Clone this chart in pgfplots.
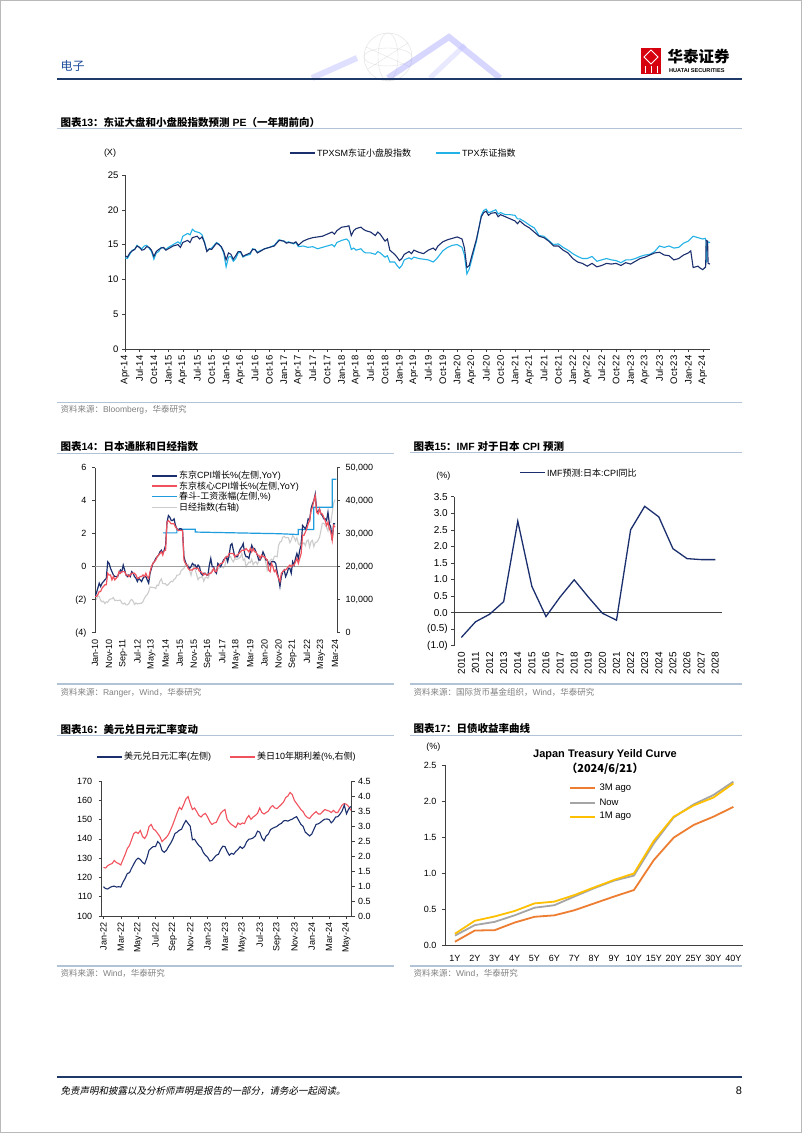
\documentclass[border=0pt]{standalone}
\usepackage{fontspec}
\setmainfont{Liberation Sans}
\newfontfamily\cjk{Noto Sans CJK SC}
\newfontfamily\cjki{Noto Sans CJK SC}[FakeSlant=0.2]
\usepackage{pgfplots}
\pgfplotsset{compat=1.18}
\definecolor{navy}{HTML}{1B2F6E}
\definecolor{sky}{HTML}{22B2E6}
\definecolor{wage}{HTML}{1E9CDE}
\definecolor{pinkred}{HTML}{F0525E}
\definecolor{nikkei}{HTML}{CCCCCC}
\definecolor{axc}{HTML}{404040}
\definecolor{rulec}{HTML}{B3C3D6}
\definecolor{hdrnavy}{HTML}{1F3A68}
\definecolor{hdrblue}{HTML}{1F4E9C}
\definecolor{srcgray}{HTML}{808080}
\definecolor{orng}{HTML}{ED7D31}
\definecolor{gry}{HTML}{A5A5A5}
\definecolor{yel}{HTML}{FFC000}
\definecolor{logored}{HTML}{D7000F}
\newcommand\fs[1]{\fontsize{#1}{#1}\selectfont}
\pgfplotsset{
  pg/.style={scale only axis, anchor=south west,
    axis line style={draw=axc, line width=0.6pt},
    tick style={draw=axc, line width=0.5pt},
    major tick length=3pt, tick align=outside,
    tick label style={font=\fs{9}, text=black},
    scaled y ticks=false, scaled x ticks=false,
    enlargelimits=false, clip=true},
  rotx/.style={xticklabel style={rotate=90, anchor=east}},
}
\begin{document}
\begin{tikzpicture}[x=1pt,y=1pt]
\fill[white] (0,0) rectangle (802,1133);
\draw[gray!55, line width=1pt] (0.5,0.5) rectangle (801.5,1132.5);
% ---------- header ----------
\begin{scope}[opacity=0.35]
\draw[gray!60, line width=0.5pt] (388,1076) circle (24);
\draw[gray!60, line width=0.4pt] (388,1076) ellipse (24 and 9) (388,1076) ellipse (10 and 24);
\draw[gray!60, line width=0.4pt] (366,1086) -- (410,1066) (368,1064) -- (408,1090);
\draw[blue!35, line width=6pt] (312,1055) -- (357,1075);
\draw[blue!45, line width=6pt] (388,1055) -- (449,1096) -- (500,1055);
\draw[blue!25, line width=5pt] (430,1055) -- (465,1088);
\end{scope}
\node[anchor=west, text=hdrblue, font=\cjk\fs{12}] at (57,1067) {电子};
\fill[logored] (641,1059) rectangle (661,1085);
\draw[white, line width=0.9pt] (651,1083) -- (658,1076) -- (651,1069) -- (644,1076) -- cycle;
\draw[white, line width=1pt] (645,1060) -- (645,1067) (651,1060) -- (651,1067) (657,1060) -- (657,1067);
\node[anchor=west, font=\cjk\bfseries\fs{15.5}] at (664,1076) {华泰证券};
\node[anchor=west, font=\bfseries\fs{5.6}] at (665.5,1062.3) {HUATAI SECURITIES};
\draw[hdrnavy, line width=2pt] (57,1053.7) -- (742,1053.7);
% ---------- chart 13 ----------
\node[anchor=west] at (57,1010.3) {\fs{10.5}\bfseries{\cjk 图表}13{\cjk ：东证大盘和小盘股指数预测} PE{\cjk （一年期前向）}};
\draw[rulec, line width=1.3pt] (57,1004.5) -- (742,1004.5);
\node[font=\fs{9}] at (110,980) {(X)};
\draw[navy, line width=1.6pt] (290,980) -- (315,980);
\node[anchor=west, font=\fs{9}, inner sep=1pt] at (316,980) {TPXSM{\cjk 东证小盘股指数}};
\draw[sky, line width=1.6pt] (436,980) -- (460,980);
\node[anchor=west, font=\fs{9}, inner sep=1pt] at (461,980) {TPX{\cjk 东证指数}};
\begin{axis}[pg, rotx, at={(125pt,784pt)}, width=585pt, height=174pt,
  xmin=0, xmax=121.5, ymin=0, ymax=25,
  axis x line*=bottom, axis y line*=left,
  ytick={0,5,10,15,20,25}, yticklabels={0,5,10,15,20,25},
  tick label style={font=\fs{9.5}},
  xtick={0,3,...,120},
  xticklabels={Apr-14,Jul-14,Oct-14,Jan-15,Apr-15,Jul-15,Oct-15,Jan-16,Apr-16,Jul-16,Oct-16,Jan-17,Apr-17,Jul-17,Oct-17,Jan-18,Apr-18,Jul-18,Oct-18,Jan-19,Apr-19,Jul-19,Oct-19,Jan-20,Apr-20,Jul-20,Oct-20,Jan-21,Apr-21,Jul-21,Oct-21,Jan-22,Apr-22,Jul-22,Oct-22,Jan-23,Apr-23,Jul-23,Oct-23,Jan-24,Apr-24}]
\addplot[sky, line width=1.1pt] table[row sep=\\] {
x y\\ 0 13.1\\ 0.5 13.0\\ 1 13.6\\ 1.5 14.2\\ 2 14.3\\ 2.5 14.9\\ 3 14.6\\ 3.5 14.4\\ 4 14.8\\ 4.5 14.9\\ 5 14.5\\ 5.5 14.0\\ 6 12.9\\ 6.5 13.8\\ 7 14.0\\ 7.5 14.6\\ 8 14.5\\ 8.5 14.3\\ 9 14.6\\ 10 15.0\\ 11 15.4\\ 11.5 15.1\\ 12 16.2\\ 13 16.6\\ 13.5 16.4\\ 14 17.2\\ 14.5 16.9\\ 15 16.8\\ 15.5 16.7\\ 16 16.4\\ 16.5 15.4\\ 17 14.1\\ 17.5 14.3\\ 18 14.5\\ 19 15.3\\ 19.5 15.1\\ 20 14.6\\ 20.5 13.8\\ 21 11.8\\ 21.5 13.2\\ 22 13.3\\ 22.5 12.6\\ 23 13.0\\ 23.5 13.8\\ 24 13.9\\ 24.5 13.2\\ 25 13.4\\ 26 13.6\\ 26.5 14.4\\ 27 14.3\\ 27.5 13.9\\ 28 14.1\\ 29 14.4\\ 30 14.6\\ 31 14.9\\ 31.5 15.3\\ 32 15.7\\ 33 15.5\\ 33.5 15.3\\ 34 15.4\\ 35 15.1\\ 35.5 15.3\\ 36 14.7\\ 37 14.8\\ 38 14.6\\ 39 14.7\\ 40 14.4\\ 41 14.6\\ 42 14.8\\ 43 15.0\\ 43.5 14.7\\ 44 15.3\\ 45 15.6\\ 46 15.8\\ 46.5 15.5\\ 47 14.3\\ 47.5 14.5\\ 48 14.2\\ 49 14.4\\ 49.5 14.0\\ 50 13.8\\ 51 13.8\\ 52 13.6\\ 52.5 14.0\\ 53 13.8\\ 54 13.2\\ 54.5 13.4\\ 55 12.5\\ 56 12.5\\ 56.5 12.0\\ 57 11.6\\ 57.5 12.0\\ 58 12.8\\ 59 13.1\\ 59.5 12.9\\ 60 13.2\\ 61 13.0\\ 62 12.9\\ 63 12.8\\ 64 12.5\\ 64.5 12.8\\ 65 13.2\\ 66 14.1\\ 67 14.6\\ 68 14.9\\ 69 15.0\\ 70 14.6\\ 70.5 13.5\\ 71 10.8\\ 71.5 11.5\\ 72 12.8\\ 73 15.5\\ 74 19.2\\ 74.5 19.9\\ 75 20.1\\ 75.5 19.6\\ 76 19.7\\ 77 20.0\\ 77.5 19.4\\ 78 19.6\\ 79 19.3\\ 80 19.3\\ 81 19.2\\ 81.5 18.7\\ 82 18.7\\ 83 18.3\\ 84 17.8\\ 85 17.4\\ 86 16.3\\ 87 16.2\\ 88 15.6\\ 89 15.0\\ 90 15.1\\ 91 14.6\\ 92 14.2\\ 93 13.7\\ 94 13.3\\ 95 13.0\\ 96 13.0\\ 97 13.3\\ 98 12.6\\ 99 12.8\\ 100 13.0\\ 101 12.8\\ 102 12.7\\ 103 12.4\\ 104 12.8\\ 105 12.8\\ 106 13.0\\ 107 13.3\\ 108 13.5\\ 109 13.6\\ 110 14.0\\ 111 14.8\\ 112 14.6\\ 113 14.8\\ 114 14.5\\ 115 14.6\\ 116 15.2\\ 117 15.5\\ 118 16.2\\ 119 16.0\\ 120 15.8\\ 120.5 15.9\\ 120.7 15.5\\ 120.8 12.4\\ 121.0 15.4\\ 121.5 15.3\\
};
\addplot[navy, line width=1.1pt] table[row sep=\\] {
x y\\ 0 13.4\\ 0.5 13.2\\ 1 13.8\\ 1.5 14.1\\ 2 14.3\\ 2.5 14.8\\ 3 14.6\\ 3.5 14.2\\ 4 14.3\\ 4.5 14.7\\ 5 14.6\\ 5.5 14.2\\ 6 13.3\\ 6.5 14.0\\ 7 14.3\\ 7.5 14.5\\ 8 14.6\\ 8.5 14.2\\ 9 14.4\\ 10 14.8\\ 11 15.0\\ 11.5 14.6\\ 12 15.3\\ 13 15.6\\ 13.5 15.3\\ 14 16.0\\ 15 16.2\\ 15.5 15.8\\ 16 16.1\\ 16.5 15.3\\ 17 14.0\\ 17.5 14.4\\ 18 14.3\\ 19 15.2\\ 19.5 15.0\\ 20 14.7\\ 20.5 14.0\\ 21 12.8\\ 21.5 13.8\\ 22 13.6\\ 22.5 12.9\\ 23 13.4\\ 23.5 14.0\\ 24 14.0\\ 24.5 13.3\\ 25 13.5\\ 26 13.8\\ 26.5 14.3\\ 27 14.3\\ 27.5 13.8\\ 28 14.0\\ 29 14.4\\ 30 14.6\\ 31 14.8\\ 31.5 15.2\\ 32 15.6\\ 33 15.5\\ 33.5 15.2\\ 34 15.3\\ 35 15.2\\ 35.5 15.4\\ 36 14.9\\ 37 15.5\\ 38 15.8\\ 39 16.0\\ 40 16.1\\ 41 16.2\\ 42 16.5\\ 43 16.8\\ 43.5 16.5\\ 44 17.0\\ 45 17.5\\ 46 17.6\\ 46.5 17.7\\ 47 16.3\\ 47.5 17.0\\ 48 17.3\\ 49 17.5\\ 49.5 17.2\\ 50 17.0\\ 51 16.8\\ 52 16.3\\ 52.5 16.8\\ 53 16.5\\ 54 15.5\\ 54.5 15.8\\ 55 14.2\\ 56 13.6\\ 56.5 13.2\\ 57 12.7\\ 57.5 13.0\\ 58 13.6\\ 59 14.0\\ 59.5 13.7\\ 60 14.2\\ 61 13.9\\ 62 13.7\\ 63 14.2\\ 64 14.5\\ 64.5 14.2\\ 65 14.8\\ 66 15.4\\ 67 15.7\\ 68 15.9\\ 69 16.1\\ 70 15.8\\ 70.5 14.5\\ 71 11.7\\ 71.5 12.0\\ 72 13.3\\ 73 15.8\\ 74 19.0\\ 74.5 19.6\\ 75 19.8\\ 75.5 19.2\\ 76 19.5\\ 77 19.6\\ 77.5 19.0\\ 78 19.3\\ 79 19.0\\ 80 18.7\\ 81 18.4\\ 81.5 18.0\\ 82 18.4\\ 83 17.8\\ 84 17.4\\ 85 16.8\\ 86 16.2\\ 87 16.0\\ 88 15.5\\ 89 14.8\\ 90 14.8\\ 91 14.2\\ 92 13.8\\ 93 13.0\\ 94 12.5\\ 95 12.3\\ 96 11.9\\ 97 12.3\\ 98 11.8\\ 99 12.0\\ 100 12.3\\ 101 12.2\\ 102 12.3\\ 103 12.0\\ 104 12.4\\ 105 12.2\\ 106 12.6\\ 107 13.0\\ 108 13.2\\ 109 13.5\\ 110 13.8\\ 111 13.9\\ 112 13.5\\ 113 13.4\\ 114 12.8\\ 115 13.0\\ 116 13.5\\ 117 13.8\\ 117.5 14.1\\ 118 11.7\\ 119 11.9\\ 119.5 11.6\\ 120 11.4\\ 120.6 11.8\\ 120.7 15.6\\ 121.0 15.5\\ 121.1 12.3\\ 121.5 12.2\\
};
\end{axis}
\draw[rulec, line width=1.2pt] (57,730.3) -- (742,730.3);
\node[anchor=west, text=srcgray, font=\fs{8.5}] at (57,723) {{\cjk 资料来源：}Bloomberg{\cjk ，华泰研究}};
% ---------- chart 14 ----------
\node[anchor=west] at (57,686.3) {\fs{10.5}\bfseries{\cjk 图表}14{\cjk ：日本通胀和日经指数}};
\draw[rulec, line width=1.3pt] (57,679.7) -- (394,679.7);
\begin{axis}[pg, at={(95pt,500.3pt)}, width=242pt, height=165pt,
  xmin=0, xmax=171.4, ymin=0, ymax=50000,
  axis x line=none, axis y line*=right,
  ytick={0,10000,20000,30000,40000,50000},
  yticklabels={0,{10,000},{20,000},{30,000},{40,000},{50,000}},
  yticklabel style={xshift=2pt}]
\addplot[nikkei, line width=1.1pt] table[header=false, x expr=\coordindex, y index=0, row sep=\\] {
10198\\10126\\11089\\11057\\9768\\9382\\9537\\8824\\9369\\9202\\9937\\10228\\
10237\\10624\\9755\\9849\\9693\\9816\\9833\\8955\\8700\\8988\\8434\\8455\\
8802\\9723\\10083\\9520\\8542\\9006\\8695\\8839\\8870\\8928\\9446\\10395\\
11138\\11559\\12397\\13860\\13774\\13677\\13668\\13388\\14455\\14327\\15662\\16291\\
14914\\14841\\14828\\14304\\14632\\15162\\15621\\15425\\16173\\16414\\17460\\17451\\
17674\\18798\\19207\\19520\\20563\\20236\\20585\\18890\\17388\\19083\\19747\\19034\\
17518\\16027\\16759\\16666\\17235\\15576\\16569\\16887\\16450\\17425\\18308\\19114\\
19041\\19119\\18909\\19197\\19651\\20033\\19925\\19646\\20356\\22012\\22725\\22765\\
23098\\22068\\21454\\22468\\22202\\22305\\22554\\22865\\24120\\21920\\22351\\20015\\
20773\\21385\\21206\\22259\\20601\\21276\\21522\\20704\\21756\\22927\\23294\\23657\\
23205\\21143\\18917\\20194\\21878\\22288\\21710\\23140\\23185\\22977\\26434\\27444\\
27663\\28966\\29179\\28813\\28860\\28792\\27284\\28090\\29453\\28893\\27822\\28792\\
27002\\26527\\27821\\26848\\27280\\26393\\27802\\28092\\25937\\27587\\27969\\26095\\
27327\\27446\\28041\\28856\\30888\\33189\\33172\\32619\\31858\\30859\\33487\\33464\\
36287\\39166\\40369\\
};
\end{axis}
\begin{axis}[pg, rotx, at={(95pt,500.3pt)}, width=242pt, height=165pt,
  xmin=0, xmax=171.4, ymin=-4, ymax=6,
  axis x line*=bottom, axis y line*=left,
  x axis line style={draw=none}, xtick style={draw=none},
  ytick={-4,-2,0,2,4,6}, yticklabels={(4),(2),0,2,4,6},
  yticklabel style={xshift=-2pt},
  extra y ticks={0}, extra y tick labels={},
  extra y tick style={grid=major, major grid style={draw=gray!75, line width=0.7pt}, tick style={draw=none}},
  xtick={0,10,...,170},
  xticklabels={Jan-10,Nov-10,Sep-11,Jul-12,May-13,Mar-14,Jan-15,Nov-15,Sep-16,Jul-17,May-18,Mar-19,Jan-20,Nov-20,Sep-21,Jul-22,May-23,Mar-24}]
\addplot[wage, line width=1.2pt] coordinates {(48,2.05)(58,2.05)(58,2.27)(71,2.27)(71,2.1)(100,2.05)(130,2.0)(144,1.95)(144,2.25)(155,2.25)(155,3.6)(168,3.6)(168,5.3)(171,5.3)};
\addplot[navy, line width=1.2pt] table[header=false, x expr=\coordindex, y index=0, row sep=\\] {
-1.8\\-1.6\\-1.3\\-1.0\\-1.2\\-1.0\\-0.9\\-0.8\\-0.7\\0.3\\0.2\\-0.1\\
-0.3\\-0.5\\-0.6\\-0.6\\-0.6\\-0.4\\-0.2\\-0.3\\0.1\\-0.2\\-0.5\\-0.6\\
-0.5\\-0.6\\-0.3\\-0.4\\-0.6\\-0.7\\-0.9\\-0.7\\-0.8\\-0.9\\-0.7\\-0.6\\
-0.6\\-0.8\\-1.0\\-0.4\\-0.1\\0.2\\0.3\\0.5\\0.6\\0.7\\0.9\\1.0\\
0.8\\1.0\\1.3\\2.7\\3.1\\3.0\\2.8\\2.8\\2.9\\2.5\\2.3\\2.2\\
2.3\\2.3\\2.2\\0.6\\0.3\\0.1\\0.0\\-0.1\\0.0\\0.2\\0.1\\0.1\\
-0.1\\0.1\\0.0\\-0.4\\-0.5\\-0.4\\-0.4\\-0.5\\-0.5\\0.1\\0.5\\0.0\\
0.0\\-0.3\\-0.4\\0.2\\0.1\\0.0\\0.2\\0.4\\0.5\\0.6\\0.3\\0.7\\
1.3\\1.4\\1.0\\0.6\\0.6\\0.6\\0.9\\1.1\\1.2\\1.4\\0.8\\0.6\\
0.6\\0.5\\0.9\\1.3\\1.1\\1.1\\0.9\\0.7\\0.4\\0.4\\0.6\\0.9\\
0.7\\0.4\\0.4\\0.2\\0.1\\0.3\\0.3\\0.3\\0.2\\-0.3\\-0.7\\-1.2\\
-0.6\\-0.3\\-0.2\\-0.6\\-0.4\\-0.1\\-0.1\\-0.4\\0.3\\0.1\\0.5\\0.8\\
0.5\\1.0\\1.3\\2.5\\2.4\\2.3\\2.5\\2.9\\2.8\\3.5\\3.8\\4.0\\
4.4\\3.4\\3.3\\3.5\\3.2\\3.1\\2.9\\2.9\\2.8\\3.3\\2.6\\2.4\\
1.6\\2.6\\2.6\\
};
\addplot[pinkred, line width=1.2pt] table[header=false, x expr=\coordindex, y index=0, row sep=\\] {
-1.8\\-1.8\\-1.7\\-1.5\\-1.5\\-1.3\\-1.2\\-1.1\\-1.1\\-0.4\\-0.5\\-0.5\\
-0.8\\-0.6\\-0.8\\-0.7\\-0.6\\-0.3\\-0.4\\-0.3\\-0.3\\-0.3\\-0.5\\-0.5\\
-0.6\\-0.5\\-0.4\\-0.4\\-0.4\\-0.5\\-0.7\\-0.7\\-0.6\\-0.6\\-0.5\\-0.6\\
-0.4\\-0.6\\-0.7\\-0.3\\0.0\\0.2\\0.3\\0.4\\0.6\\0.7\\0.8\\0.9\\
0.7\\1.0\\1.0\\2.7\\2.8\\2.7\\2.6\\2.6\\2.6\\2.4\\2.3\\2.2\\
2.2\\2.2\\2.2\\0.4\\0.2\\0.1\\-0.1\\-0.2\\-0.2\\-0.2\\-0.1\\-0.1\\
-0.1\\-0.1\\-0.3\\-0.3\\-0.4\\-0.5\\-0.4\\-0.5\\-0.5\\-0.4\\-0.4\\-0.3\\
-0.1\\-0.3\\-0.3\\0.0\\0.1\\0.2\\0.2\\0.3\\0.5\\0.6\\0.6\\0.8\\
0.8\\0.8\\0.8\\0.6\\0.7\\0.7\\0.8\\0.9\\1.0\\1.0\\1.0\\1.1\\
1.0\\0.9\\1.1\\0.9\\1.1\\0.9\\0.9\\0.7\\0.7\\0.5\\0.7\\0.6\\
0.6\\0.5\\0.4\\-0.2\\-0.3\\0.2\\0.0\\-0.3\\-0.2\\-0.5\\-0.7\\-0.9\\
-0.4\\-0.3\\-0.2\\-0.2\\-0.1\\0.0\\0.1\\0.0\\0.1\\0.1\\0.3\\0.5\\
0.2\\0.5\\0.8\\1.9\\1.9\\2.1\\2.3\\2.6\\2.8\\3.4\\3.6\\4.0\\
4.3\\3.3\\3.2\\3.5\\3.2\\3.2\\3.0\\2.8\\2.5\\2.7\\2.3\\2.1\\
1.6\\2.5\\2.4\\
};
\end{axis}
\draw[navy, line width=1.6pt] (152,657) -- (177,657);
\node[anchor=west, font=\fs{9}, inner sep=1pt] at (178,657) {{\cjk 东京}CPI{\cjk 增长}\%({\cjk 左侧},YoY)};
\draw[pinkred, line width=1.6pt] (152,646.7) -- (177,646.7);
\node[anchor=west, font=\fs{9}, inner sep=1pt] at (178,646.7) {{\cjk 东京核心}CPI{\cjk 增长}\%({\cjk 左侧},YoY)};
\draw[wage, line width=1.6pt] (152,636.3) -- (177,636.3);
\node[anchor=west, font=\fs{9}, inner sep=1pt] at (178,636.3) {{\cjk 春斗-工资涨幅}({\cjk 左侧},\%)};
\draw[nikkei, line width=1.6pt] (152,625.3) -- (177,625.3);
\node[anchor=west, font=\fs{9}, inner sep=1pt] at (178,625.3) {{\cjk 日经指数}({\cjk 右轴})};
\draw[rulec, line width=1.2pt] (57,449) -- (394,449);
\node[anchor=west, text=srcgray, font=\fs{8.5}] at (57,440.3) {{\cjk 资料来源：}Ranger{\cjk ，}Wind{\cjk ，华泰研究}};
% ---------- chart 15 ----------
\node[anchor=west] at (410,686.3) {\fs{10.5}\bfseries{\cjk 图表}15{\cjk ：}IMF {\cjk 对于日本} CPI {\cjk 预测}};
\draw[rulec, line width=1.3pt] (410,680.3) -- (742,680.3);
\node[font=\fs{9}] at (443.3,657) {(\%)};
\draw[navy, line width=1.6pt] (520,660.3) -- (545,660.3);
\node[anchor=west, font=\fs{9}, inner sep=1pt] at (546,660.3) {IMF{\cjk 预测}:{\cjk 日本}:CPI{\cjk 同比}};
\begin{axis}[pg, rotx, at={(454.3pt,487.3pt)}, width=268pt, height=149pt,
  xmin=2009.5, xmax=2028.5, ymin=-1, ymax=3.5,
  axis x line*=bottom, axis y line*=left,
  x axis line style={draw=none}, xtick style={draw=none},
  tick label style={font=\fs{10}},
  ytick={-1,-0.5,0,0.5,1,1.5,2,2.5,3,3.5},
  yticklabels={(1.0),(0.5),0.0,0.5,1.0,1.5,2.0,2.5,3.0,3.5},
  extra y ticks={0}, extra y tick labels={},
  extra y tick style={grid=major, major grid style={draw=axc, line width=0.6pt}, tick style={draw=none}},
  xtick={2010,...,2028},
  xticklabels={2010,2011,2012,2013,2014,2015,2016,2017,2018,2019,2020,2021,2022,2023,2024,2025,2026,2027,2028}]
\addplot[navy, line width=1.3pt] coordinates {(2010,-0.75)(2011,-0.28)(2012,-0.05)(2013,0.33)(2014,2.76)(2015,0.79)(2016,-0.12)(2017,0.47)(2018,0.99)(2019,0.47)(2020,-0.02)(2021,-0.23)(2022,2.50)(2023,3.21)(2024,2.89)(2025,1.93)(2026,1.63)(2027,1.60)(2028,1.60)};
\end{axis}
\draw[rulec, line width=1.2pt] (410,449) -- (742,449);
\node[anchor=west, text=srcgray, font=\fs{8.5}] at (410,440.3) {{\cjk 资料来源：国际货币基金组织，}Wind{\cjk ，华泰研究}};
% ---------- chart 16 ----------
\node[anchor=west] at (57,404) {\fs{10.5}\bfseries{\cjk 图表}16{\cjk ：美元兑日元汇率变动}};
\draw[rulec, line width=1.3pt] (57,397.3) -- (394,397.3);
\draw[navy, line width=1.8pt] (97,376) -- (122,376);
\node[anchor=west, font=\fs{9}, inner sep=1pt] at (123,376) {{\cjk 美元兑日元汇率}({\cjk 左侧})};
\draw[pinkred, line width=1.8pt] (230,376) -- (255,376);
\node[anchor=west, font=\fs{9}, inner sep=1pt] at (256,376) {{\cjk 美日}10{\cjk 年期利差}(\%,{\cjk 右侧})};
\begin{axis}[pg, at={(101.7pt,217pt)}, width=250pt, height=135pt,
  xmin=-0.2, xmax=28.6, ymin=0, ymax=4.5,
  axis x line=none, axis y line*=right,
  ytick={0,0.5,1,1.5,2,2.5,3,3.5,4,4.5},
  yticklabels={0.0,0.5,1.0,1.5,2.0,2.5,3.0,3.5,4.0,4.5}]
\addplot[pinkred, line width=1.1pt] table[header=false, x expr=\coordindex*0.25, y index=0, row sep=\\] {
1.62\\1.60\\1.68\\1.72\\1.75\\1.85\\1.78\\1.75\\1.70\\1.88\\2.05\\2.25\\
2.35\\2.55\\2.75\\2.80\\2.75\\2.85\\2.65\\2.58\\2.70\\2.98\\3.05\\2.90\\
2.85\\2.75\\2.65\\2.48\\2.55\\2.62\\2.72\\2.88\\3.05\\3.25\\3.45\\3.62\\
3.55\\3.72\\3.90\\3.98\\3.75\\3.55\\3.60\\3.48\\3.35\\3.30\\3.38\\3.42\\
3.30\\3.15\\3.05\\3.10\\3.12\\3.28\\3.42\\3.50\\3.55\\3.22\\3.12\\3.05\\
3.00\\2.95\\3.10\\3.05\\3.10\\3.08\\3.25\\3.35\\3.22\\3.30\\3.35\\3.42\\
3.60\\3.45\\3.40\\3.45\\3.50\\3.62\\3.68\\3.60\\3.58\\3.65\\3.72\\3.80\\
3.95\\4.00\\4.12\\4.05\\3.85\\3.75\\3.65\\3.55\\3.48\\3.35\\3.28\\3.25\\
3.35\\3.42\\3.48\\3.40\\3.40\\3.48\\3.55\\3.52\\3.50\\3.45\\3.52\\3.45\\
3.45\\3.58\\3.70\\3.75\\3.72\\3.65\\3.52\\
};
\end{axis}
\begin{axis}[pg, rotx, at={(101.7pt,217pt)}, width=250pt, height=135pt,
  xmin=-0.2, xmax=28.6, ymin=100, ymax=170,
  axis x line*=bottom, axis y line*=left,
  ytick={100,110,...,170}, yticklabels={100,110,120,130,140,150,160,170},
  yticklabel style={xshift=-3pt},
  xtick={0,2,...,28},
  xticklabels={Jan-22,Mar-22,May-22,Jul-22,Sep-22,Nov-22,Jan-23,Mar-23,May-23,Jul-23,Sep-23,Nov-23,Jan-24,Mar-24,May-24}]
\addplot[navy, line width=1.1pt] table[header=false, x expr=\coordindex*0.25, y index=0, row sep=\\] {
115.2\\114.2\\114.0\\114.8\\115.3\\115.5\\115.0\\115.2\\115.0\\117.5\\119.5\\122.0\\
122.5\\124.8\\127.0\\129.0\\130.0\\129.3\\127.8\\127.0\\130.0\\134.0\\135.2\\136.0\\
136.0\\138.6\\137.5\\134.0\\133.0\\134.0\\136.0\\137.8\\140.0\\142.8\\143.5\\144.5\\
145.0\\147.5\\149.5\\148.0\\146.5\\139.5\\139.8\\138.0\\136.5\\135.5\\133.0\\131.5\\
130.5\\128.5\\128.8\\130.2\\131.5\\132.0\\134.5\\136.2\\136.0\\133.5\\131.5\\132.5\\
132.0\\133.5\\134.5\\136.0\\135.0\\136.0\\138.5\\139.8\\140.0\\140.5\\141.5\\144.0\\
143.5\\140.5\\139.0\\141.5\\142.5\\144.8\\145.5\\146.0\\146.5\\147.5\\148.0\\149.3\\
149.5\\149.2\\149.8\\150.2\\151.0\\151.5\\149.5\\147.5\\146.5\\143.5\\142.5\\141.5\\
142.5\\145.0\\147.5\\147.8\\148.5\\149.5\\150.2\\150.3\\150.0\\148.3\\149.5\\151.3\\
151.5\\152.8\\154.5\\157.5\\153.0\\155.5\\156.8\\
};
\end{axis}
\draw[rulec, line width=1.2pt] (57,167) -- (394,167);
\node[anchor=west, text=srcgray, font=\fs{8.5}] at (57,160) {{\cjk 资料来源：}Wind{\cjk ，华泰研究}};
% ---------- chart 17 ----------
\node[anchor=west] at (410,404) {\fs{10.5}\bfseries{\cjk 图表}17{\cjk ：日债收益率曲线}};
\draw[rulec, line width=1.3pt] (410,397.3) -- (742,397.3);
\node[font=\fs{9}] at (433.3,386.3) {(\%)};
\node[font=\bfseries\fs{11}] at (605,378) {Japan Treasury Yeild Curve};
\node[font=\cjk\bfseries\fs{11}] at (605,364.7) {（2024/6/21）};
\begin{axis}[pg, at={(445pt,187.3pt)}, width=298.3pt, height=180.7pt,
  xmin=-0.5, xmax=14.5, ymin=0, ymax=2.5,
  axis x line*=bottom, axis y line*=left,
  xtick style={draw=none},
  ytick={0,0.5,1,1.5,2,2.5}, yticklabels={0.0,0.5,1.0,1.5,2.0,2.5},
  yticklabel style={xshift=-2pt},
  xtick={0,...,14},
  xticklabels={1Y,2Y,3Y,4Y,5Y,6Y,7Y,8Y,9Y,10Y,15Y,20Y,25Y,30Y,40Y},
  xticklabel style={anchor=north, yshift=-3pt}]
\addplot[orng, line width=1.8pt] coordinates {(0,0.055)(1,0.21)(2,0.215)(3,0.32)(4,0.40)(5,0.42)(6,0.49)(7,0.585)(8,0.68)(9,0.77)(10,1.185)(11,1.495)(12,1.67)(13,1.785)(14,1.92)};
\addplot[gry, line width=1.8pt] coordinates {(0,0.14)(1,0.285)(2,0.33)(3,0.42)(4,0.525)(5,0.56)(6,0.68)(7,0.795)(8,0.90)(9,0.97)(10,1.415)(11,1.775)(12,1.955)(13,2.085)(14,2.27)};
\addplot[yel, line width=1.8pt] coordinates {(0,0.165)(1,0.345)(2,0.405)(3,0.48)(4,0.585)(5,0.61)(6,0.70)(7,0.807)(8,0.91)(9,1.00)(10,1.45)(11,1.785)(12,1.94)(13,2.05)(14,2.245)};
\end{axis}
\draw[orng, line width=1.8pt] (570,344.7) -- (595,344.7);
\node[anchor=west, font=\fs{9.5}] at (596,344.7) {3M ago};
\draw[gry, line width=1.8pt] (570,330.3) -- (595,330.3);
\node[anchor=west, font=\fs{9.5}] at (596,330.3) {Now};
\draw[yel, line width=1.8pt] (570,316.3) -- (595,316.3);
\node[anchor=west, font=\fs{9.5}] at (596,316.3) {1M ago};
\draw[rulec, line width=1.2pt] (410,167) -- (742,167);
\node[anchor=west, text=srcgray, font=\fs{8.5}] at (410,160) {{\cjk 资料来源：}Wind{\cjk ，华泰研究}};
% ---------- footer ----------
\draw[hdrnavy, line width=2pt] (57,56) -- (742,56);
\node[anchor=west, font=\cjki\fs{9.5}] at (57,42) {免责声明和披露以及分析师声明是报告的一部分，请务必一起阅读。};
\node[font=\fs{11}] at (739,42) {8};
\end{tikzpicture}
\end{document}
